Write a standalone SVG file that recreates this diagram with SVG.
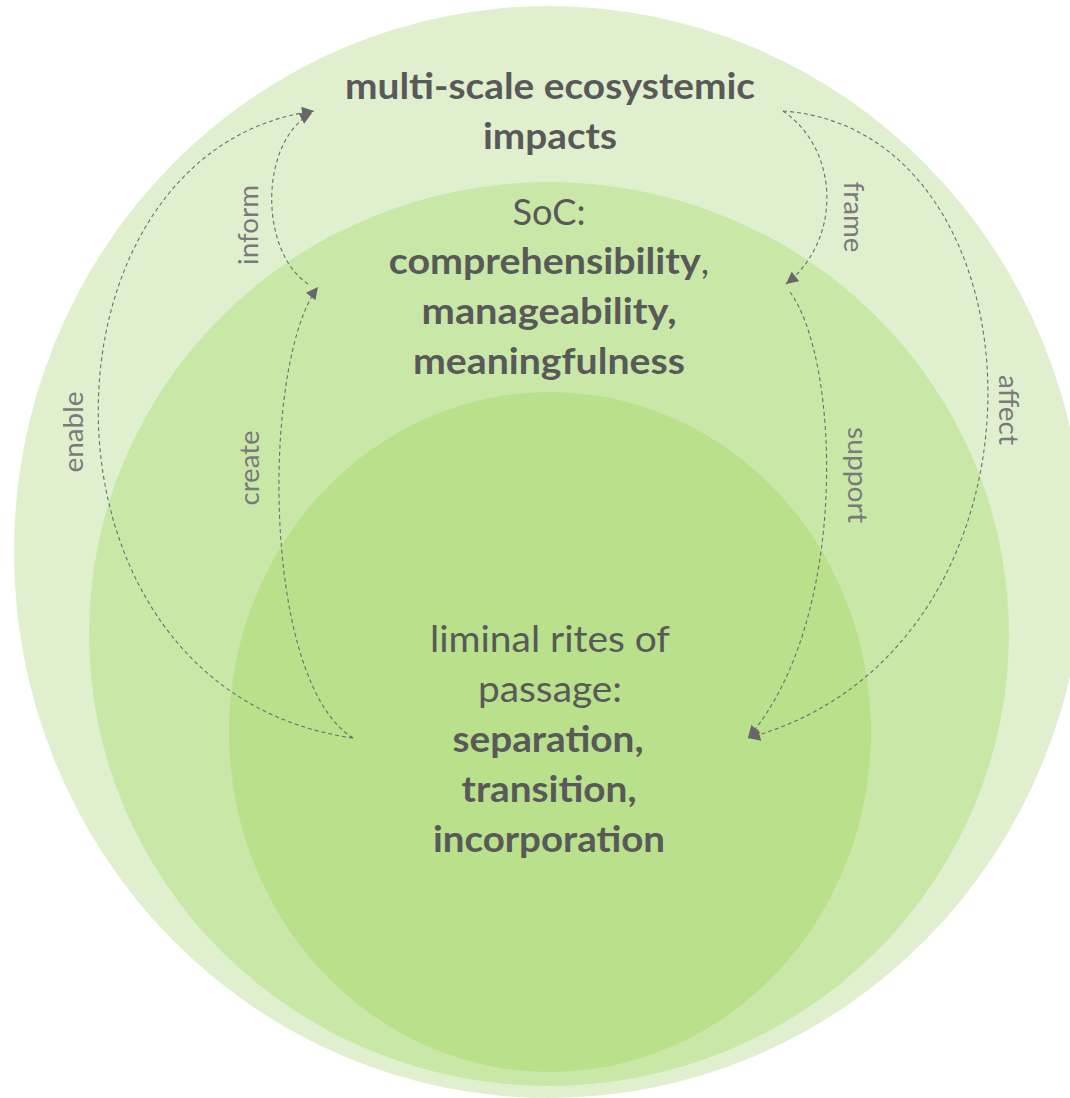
<svg xmlns="http://www.w3.org/2000/svg" width="1070" height="1098" viewBox="0 0 1070 1098">
<defs>
<style>
.main{font-family:Lato,"Open Sans","Liberation Sans",sans-serif;font-size:37px;fill:#595959;text-anchor:middle}
.b{font-weight:bold}
.r{font-weight:normal}
.lbl{font-family:Lato,"Open Sans","Liberation Sans",sans-serif;font-size:27px;fill:#7a7a7a;text-anchor:middle}
.con{fill:none;stroke:#6e6e6e;stroke-width:1.1;stroke-dasharray:4 3}
.arr{marker-end:url(#ah)}
</style>
<marker id="ah" viewBox="0 0 10 10" refX="10" refY="5" markerWidth="15" markerHeight="12" markerUnits="userSpaceOnUse" orient="auto">
<path d="M0,0 L10,5 L0,10 z" fill="#686668"/>
</marker>
</defs>
<rect width="1070" height="1098" fill="#ffffff"/>
<g id="node-impacts">
<ellipse cx="549" cy="552" rx="535" ry="546" fill="#E0F0CE"/>
<text class="main b" x="550" y="99" textLength="410" lengthAdjust="spacingAndGlyphs">multi-scale ecosystemic</text>
<text class="main b" x="550" y="149" textLength="134" lengthAdjust="spacingAndGlyphs">impacts</text>
</g>
<g id="node-soc">
<ellipse cx="549" cy="634" rx="460" ry="452" fill="#C9E8A7"/>
<text class="main r" x="549" y="225" textLength="73" lengthAdjust="spacingAndGlyphs">SoC:</text>
<text class="main" x="549" y="274"><tspan class="b" textLength="312" lengthAdjust="spacingAndGlyphs">comprehensibility</tspan><tspan class="r">,</tspan></text>
<text class="main b" x="549" y="324" textLength="255" lengthAdjust="spacingAndGlyphs">manageability,</text>
<text class="main b" x="549" y="374" textLength="272" lengthAdjust="spacingAndGlyphs">meaningfulness</text>
</g>
<g id="node-rites">
<ellipse cx="550" cy="732" rx="321" ry="340" fill="#B9E08B"/>
<text class="main r" x="550" y="652" textLength="240" lengthAdjust="spacingAndGlyphs">liminal rites of</text>
<text class="main r" x="550" y="702" textLength="144" lengthAdjust="spacingAndGlyphs">passage:</text>
<text class="main b" x="548" y="752" textLength="191" lengthAdjust="spacingAndGlyphs">separation,</text>
<text class="main b" x="549" y="802" textLength="175" lengthAdjust="spacingAndGlyphs">transition,</text>
<text class="main b" x="549" y="852" textLength="232" lengthAdjust="spacingAndGlyphs">incorporation</text>
</g>
<g id="connectors">
<path id="c-enable" class="con arr" d="M353,738 C15,690 25,150 314,111"/>
<path id="c-inform" class="con arr" d="M308,284 C258,250 260,140 312,113"/>
<path id="c-create" class="con arr" d="M353,738 C260,680 262,360 318,287"/>
<path id="c-frame" class="con arr" d="M783,111 C840,150 842,240 786,284"/>
<path id="c-affect" class="con arr" d="M783,111 C1052,130 1072,650 748,738"/>
<path id="c-support" class="con arr" d="M790,292 C840,360 850,620 748,738"/>
<g id="labels">
<text class="lbl" x="258" y="225" transform="rotate(-90 258 225)" textLength="80" lengthAdjust="spacingAndGlyphs">inform</text>
<text class="lbl" x="83" y="432" transform="rotate(-90 83 432)" textLength="81" lengthAdjust="spacingAndGlyphs">enable</text>
<text class="lbl" x="259" y="468" transform="rotate(-90 259 468)" textLength="75" lengthAdjust="spacingAndGlyphs">create</text>
<text class="lbl" x="844" y="217" transform="rotate(90 844 217)" textLength="71" lengthAdjust="spacingAndGlyphs">frame</text>
<text class="lbl" x="999" y="410" transform="rotate(90 999 410)" textLength="70" lengthAdjust="spacingAndGlyphs">affect</text>
<text class="lbl" x="848" y="475" transform="rotate(90 848 475)" textLength="96" lengthAdjust="spacingAndGlyphs">support</text>
</g>
</g>
</svg>
